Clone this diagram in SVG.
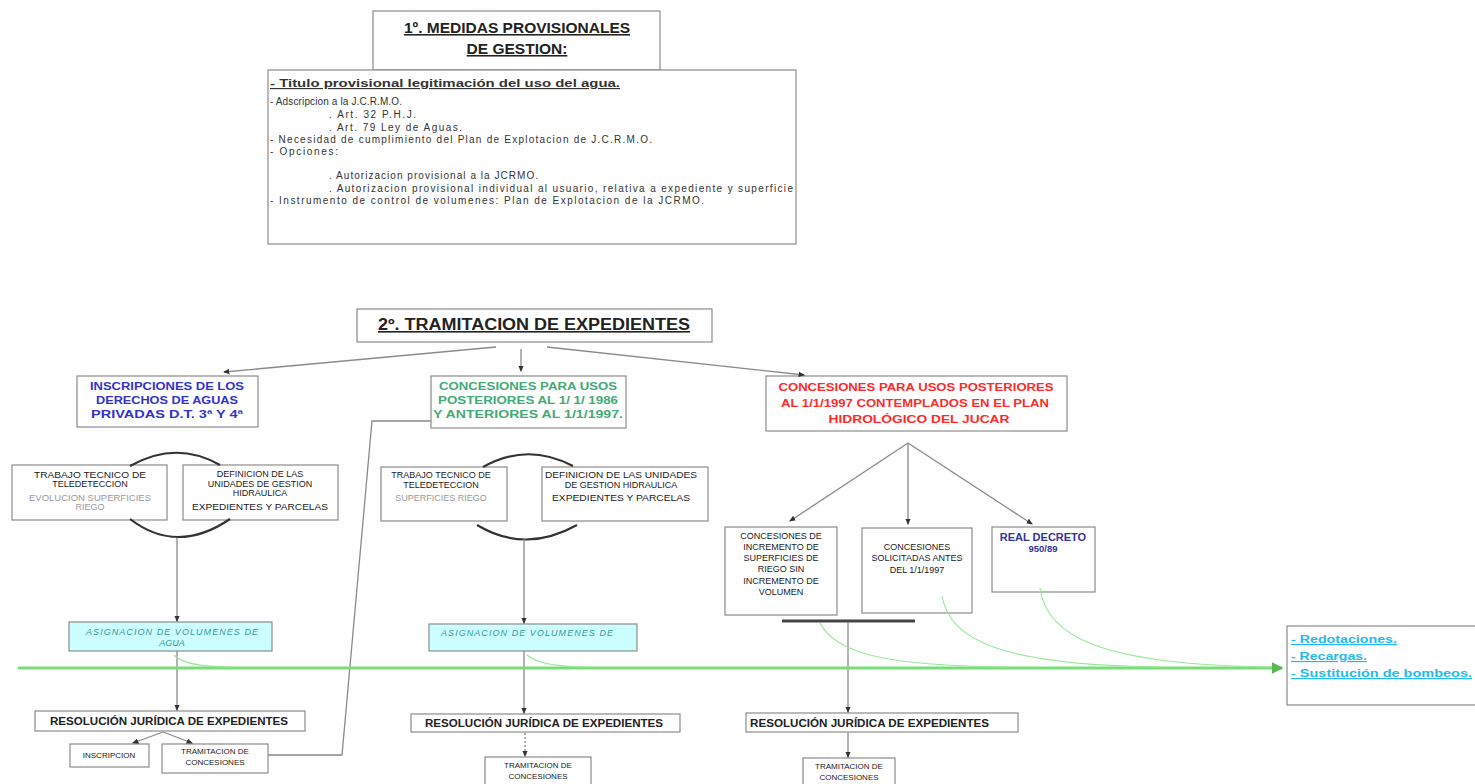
<svg xmlns="http://www.w3.org/2000/svg" width="1475" height="784" viewBox="0 0 1475 784">
<style>
text{font-family:"Liberation Sans",Arial,sans-serif}
.box{fill:#fff;stroke:#8c8c8c;stroke-width:1.2}
.cyan{fill:#ccffff;stroke:#8c8c8c;stroke-width:1.2}
.t{font-size:10px;fill:#333}
.ttl{font-size:15.5px;font-weight:bold;fill:#222;text-decoration:underline;text-anchor:middle}
.hd{font-size:11.5px;font-weight:bold;fill:#333;text-decoration:underline}
.blue{font-size:11.5px;font-weight:bold;fill:#3333cc;text-anchor:middle}
.green{font-size:11.5px;font-weight:bold;fill:#44aa77;text-anchor:middle}
.red{font-size:11.5px;font-weight:bold;fill:#ff2b2b;text-anchor:middle}
.sm{font-size:9px;fill:#222;text-anchor:middle}
.gr{font-size:9px;fill:#9a9a9a;text-anchor:middle}
.res{font-size:10.5px;font-weight:bold;fill:#222}
.asg{font-size:9px;font-style:italic;fill:#339999;text-anchor:middle}
.rd{font-size:11px;font-weight:bold;fill:#333399;text-anchor:middle}
.lnk{font-size:11.5px;font-weight:bold;fill:#22bbee;text-decoration:underline}
.con{fill:none;stroke:#8a8a8a;stroke-width:1.3}
.arc{fill:none;stroke:#333;stroke-width:2.2}
.gl{fill:none;stroke:#9be89b;stroke-width:1.2}
</style>
<defs>
<marker id="dot" viewBox="0 0 6 6" refX="5" refY="3" markerWidth="5" markerHeight="5" orient="auto">
<path d="M0,0.5 L6,3 L0,5.5 z" fill="#333"/>
</marker>
<marker id="garr" viewBox="0 0 8 8" refX="7" refY="4" markerWidth="4" markerHeight="4" orient="auto">
<path d="M0,0 L8,4 L0,8 z" fill="#55bb55"/>
</marker>
</defs>
<rect width="1475" height="784" fill="#fff"/>

<g id="medidas-titulo">
<rect class="box" x="373" y="11" width="287" height="59"/>
<text class="ttl" x="517" y="33">1º. MEDIDAS PROVISIONALES</text>
<text class="ttl" x="517" y="54">DE GESTION:</text>
</g>

<g id="medidas-texto">
<rect class="box" x="268" y="70" width="528" height="174"/>
<text class="hd" x="270" y="87" textLength="350" lengthAdjust="spacingAndGlyphs">- Titulo provisional legitimación del uso del agua.</text>
<text class="t" x="270" y="105" textLength="132" lengthAdjust="spacing">- Adscripcion a la J.C.R.M.O.</text>
<text class="t" x="329" y="118" textLength="87" lengthAdjust="spacing">. Art. 32  P.H.J.</text>
<text class="t" x="329" y="131" textLength="133" lengthAdjust="spacing">. Art. 79  Ley de Aguas.</text>
<text class="t" x="270" y="143" textLength="382" lengthAdjust="spacing">- Necesidad de cumplimiento del Plan de Explotacion de J.C.R.M.O.</text>
<text class="t" x="270" y="155" textLength="68" lengthAdjust="spacing">- Opciones:</text>
<text class="t" x="329" y="179" textLength="209" lengthAdjust="spacing">. Autorizacion provisional a la JCRMO.</text>
<text class="t" x="329" y="192" textLength="464" lengthAdjust="spacing">. Autorizacion provisional individual al usuario, relativa a expediente y superficie</text>
<text class="t" x="270" y="204" textLength="434" lengthAdjust="spacing">- Instrumento de control de volumenes:  Plan de Explotacion de la JCRMO.</text>
</g>

<g id="tramitacion">
<rect class="box" x="357" y="309" width="355" height="33"/>
<text class="ttl" x="534" y="330" style="font-size:16px" textLength="312" lengthAdjust="spacingAndGlyphs">2º. TRAMITACION DE EXPEDIENTES</text>
</g>

<g id="inscripciones">
<rect class="box" x="77" y="376" width="181" height="51"/>
<text class="blue" x="167" y="390" textLength="154" lengthAdjust="spacingAndGlyphs">INSCRIPCIONES DE LOS</text>
<text class="blue" x="167" y="404" textLength="142" lengthAdjust="spacingAndGlyphs">DERECHOS DE AGUAS</text>
<text class="blue" x="167" y="418" textLength="152" lengthAdjust="spacingAndGlyphs">PRIVADAS D.T. 3ª Y 4ª</text>
</g>

<g id="concesiones-1986">
<rect class="box" x="431" y="376" width="195" height="52"/>
<text class="green" x="528" y="390" textLength="178" lengthAdjust="spacingAndGlyphs">CONCESIONES PARA USOS</text>
<text class="green" x="528" y="404" textLength="180" lengthAdjust="spacingAndGlyphs">POSTERIORES AL 1/ 1/ 1986</text>
<text class="green" x="528" y="418" textLength="190" lengthAdjust="spacingAndGlyphs">Y ANTERIORES AL 1/1/1997.</text>
</g>

<g id="concesiones-1997">
<rect class="box" x="766" y="376" width="301" height="55"/>
<text class="red" x="916" y="391" textLength="275" lengthAdjust="spacingAndGlyphs">CONCESIONES PARA USOS POSTERIORES</text>
<text class="red" x="915" y="407" textLength="268" lengthAdjust="spacingAndGlyphs">AL 1/1/1997 CONTEMPLADOS  EN EL PLAN</text>
<text class="red" x="919" y="423" textLength="181" lengthAdjust="spacingAndGlyphs">HIDROLÓGICO DEL JUCAR</text>
</g>

<g id="trabajo-1">
<rect class="box" x="12" y="465" width="155" height="55"/>
<text class="sm" x="90" y="478" textLength="112" lengthAdjust="spacingAndGlyphs">TRABAJO TECNICO DE</text>
<text class="sm" x="90" y="487">TELEDETECCION</text>
<text class="gr" x="90" y="501" textLength="122" lengthAdjust="spacingAndGlyphs">EVOLUCION SUPERFICIES</text>
<text class="gr" x="90" y="510">RIEGO</text>
</g>

<g id="definicion-1">
<rect class="box" x="183" y="465" width="155" height="55"/>
<text class="sm" x="260" y="477">DEFINICION DE LAS</text>
<text class="sm" x="260" y="487">UNIDADES DE GESTION</text>
<text class="sm" x="260" y="496">HIDRAULICA</text>
<text class="sm" x="260" y="510" textLength="136" lengthAdjust="spacingAndGlyphs">EXPEDIENTES Y PARCELAS</text>
</g>

<g id="trabajo-2">
<rect class="box" x="381" y="467" width="126" height="54"/>
<text class="sm" x="441" y="478">TRABAJO TECNICO DE</text>
<text class="sm" x="441" y="488">TELEDETECCION</text>
<text class="gr" x="441" y="501">SUPERFICIES RIEGO</text>
</g>

<g id="definicion-2">
<rect class="box" x="542" y="467" width="166" height="54"/>
<text class="sm" x="621" y="478" textLength="152" lengthAdjust="spacingAndGlyphs">DEFINICION DE LAS UNIDADES</text>
<text class="sm" x="621" y="488">DE GESTION HIDRAULICA</text>
<text class="sm" x="621" y="501" textLength="138" lengthAdjust="spacingAndGlyphs">EXPEDIENTES Y PARCELAS</text>
</g>

<g id="incremento">
<rect class="box" x="725" y="527" width="112" height="88"/>
<text class="sm" x="781" y="539">CONCESIONES DE</text>
<text class="sm" x="781" y="550">INCREMENTO DE</text>
<text class="sm" x="781" y="561">SUPERFICIES DE</text>
<text class="sm" x="781" y="572">RIEGO SIN</text>
<text class="sm" x="781" y="584">INCREMENTO DE</text>
<text class="sm" x="781" y="595">VOLUMEN</text>
</g>

<g id="solicitadas">
<rect class="box" x="862" y="528" width="110" height="85"/>
<text class="sm" x="917" y="550">CONCESIONES</text>
<text class="sm" x="917" y="561">SOLICITADAS ANTES</text>
<text class="sm" x="917" y="573">DEL 1/1/1997</text>
</g>

<g id="real-decreto">
<rect class="box" x="992" y="527" width="103" height="65"/>
<text class="rd" x="1043" y="541">REAL DECRETO</text>
<text class="rd" x="1043" y="552" style="font-size:9.5px">950/89</text>
</g>

<g id="asignacion-1">
<rect class="cyan" x="69" y="622" width="203" height="29"/>
<text class="asg" x="172" y="635" textLength="172" lengthAdjust="spacing">ASIGNACION DE VOLUMENES DE</text>
<text class="asg" x="172" y="646">AGUA</text>
</g>

<g id="asignacion-2">
<rect class="cyan" x="429" y="624" width="208" height="27"/>
<text class="asg" x="527" y="636" textLength="172" lengthAdjust="spacing">ASIGNACION DE VOLUMENES DE</text>
</g>

<g id="resolucion-1">
<rect class="box" x="35" y="711" width="270" height="20"/>
<text class="res" x="50" y="725" textLength="238" lengthAdjust="spacingAndGlyphs">RESOLUCIÓN JURÍDICA DE EXPEDIENTES</text>
</g>

<g id="resolucion-2">
<rect class="box" x="411" y="714" width="269" height="18"/>
<text class="res" x="425" y="727" textLength="238" lengthAdjust="spacingAndGlyphs">RESOLUCIÓN JURÍDICA DE EXPEDIENTES</text>
</g>

<g id="resolucion-3">
<rect class="box" x="746" y="713" width="272" height="19"/>
<text class="res" x="750" y="727" textLength="239" lengthAdjust="spacingAndGlyphs">RESOLUCIÓN JURÍDICA DE EXPEDIENTES</text>
</g>

<g id="inscripcion">
<rect class="box" x="70" y="744" width="79" height="23"/>
<text class="sm" x="109" y="758" style="font-size:8px">INSCRIPCION</text>
</g>

<g id="tramitacion-conc-1">
<rect class="box" x="162" y="744" width="106" height="29"/>
<text class="sm" x="215" y="754" style="font-size:8px">TRAMITACION DE</text>
<text class="sm" x="215" y="765" style="font-size:8px">CONCESIONES</text>
</g>

<g id="tramitacion-conc-2">
<rect class="box" x="485" y="757" width="106" height="30"/>
<text class="sm" x="538" y="768" style="font-size:8px">TRAMITACION DE</text>
<text class="sm" x="538" y="779" style="font-size:8px">CONCESIONES</text>
</g>

<g id="tramitacion-conc-3">
<rect class="box" x="803" y="758" width="92" height="30"/>
<text class="sm" x="849" y="769" style="font-size:8px">TRAMITACION DE</text>
<text class="sm" x="849" y="780" style="font-size:8px">CONCESIONES</text>
</g>

<g id="medidas-agua">
<rect class="box" x="1287" y="626" width="192" height="79"/>
<text class="lnk" x="1291" y="643" textLength="106" lengthAdjust="spacingAndGlyphs">- Redotaciones.</text>
<text class="lnk" x="1291" y="660" textLength="76" lengthAdjust="spacingAndGlyphs">- Recargas.</text>
<text class="lnk" x="1291" y="677" textLength="181" lengthAdjust="spacingAndGlyphs">- Sustitución de bombeos.</text>
</g>

<g id="connectors">
<path class="con" d="M496,347 L224,372" marker-end="url(#dot)"/>
<path class="con" d="M521,349 L521,371" marker-end="url(#dot)"/>
<path class="con" d="M547,347 L804,375" marker-end="url(#dot)"/>
<path class="con" d="M908,443 L790,521" marker-end="url(#dot)"/>
<path class="con" d="M908,443 L908,524" marker-end="url(#dot)"/>
<path class="con" d="M908,443 L1032,524" marker-end="url(#dot)"/>
<path class="arc" d="M130,466 Q176,440 220,465"/>
<path class="arc" d="M130,519 Q177,555 230,519"/>
<path class="arc" d="M483,467 Q527,442 573,466"/>
<path class="arc" d="M477,525 Q525,554 577,525"/>
<path d="M782,621 L915,621" stroke="#444" stroke-width="3" fill="none"/>
<path class="con" d="M177,538 L177,621" marker-end="url(#dot)"/>
<path class="con" d="M177,651 L177,710" marker-end="url(#dot)"/>
<path class="con" d="M524,539 L524,623" marker-end="url(#dot)"/>
<path class="con" d="M524,651 L524,713" marker-end="url(#dot)"/>
<path class="con" d="M848,622 L848,712" marker-end="url(#dot)"/>
<path class="con" d="M163,732 L133,743" marker-end="url(#dot)"/>
<path class="con" d="M163,732 L192,743" marker-end="url(#dot)"/>
<path class="con" d="M525,733 L525,756" stroke-dasharray="2,2" marker-end="url(#dot)"/>
<path class="con" d="M848,733 L848,757" marker-end="url(#dot)"/>
<path class="con" d="M268,755 L342,755 L372,421 L431,421"/>
<path d="M18,668 L1282,668" stroke="#77dd77" stroke-width="3" fill="none" marker-end="url(#garr)"/>
<path class="gl" d="M174,655 Q185,667 231,667"/>
<path class="gl" d="M527,655 Q540,667 590,667"/>
<path class="gl" d="M820,623 C835,652 880,666 1010,667"/>
<path class="gl" d="M942,596 C950,640 1000,665 1160,667"/>
<path class="gl" d="M1040,588 C1046,636 1100,665 1272,667"/>
</g>
</svg>
